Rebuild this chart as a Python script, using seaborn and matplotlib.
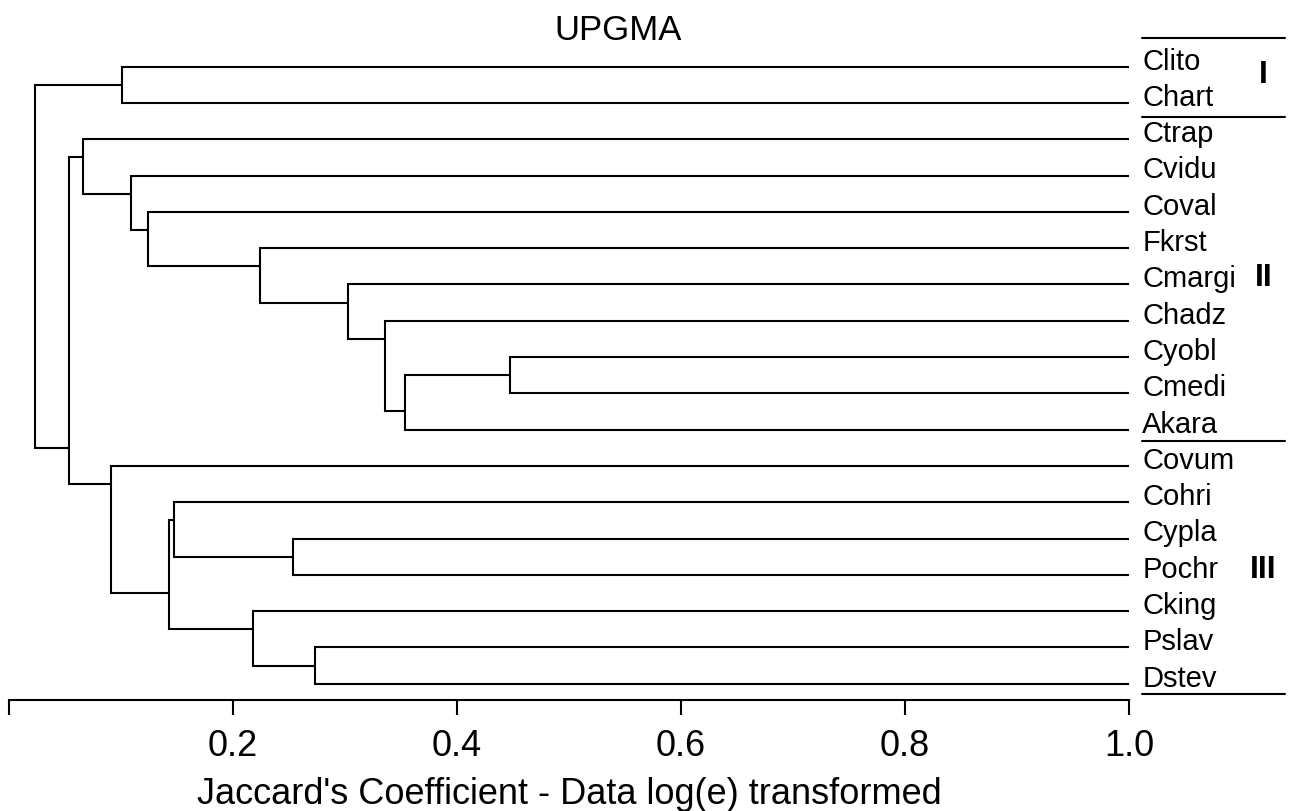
import matplotlib
matplotlib.use("Agg")
import matplotlib.pyplot as plt
import seaborn as sns

# leaf order, top to bottom
leaves = ["Clito", "Chart", "Ctrap", "Cvidu", "Coval", "Fkrst", "Cmargi", "Chadz",
          "Cyobl", "Cmedi", "Akara", "Covum", "Cohri", "Cypla", "Pochr", "Cking",
          "Pslav", "Dstev"]

# merges: (left node, right node, similarity); new nodes numbered from len(leaves)
merge_left = [0, 8, 19, 7, 6, 5, 4, 3, 2, 13, 12, 16, 15, 28, 11, 26, 18]
merge_right = [1, 9, 10, 20, 21, 22, 23, 24, 25, 14, 27, 17, 29, 30, 31, 32, 33]
merge_height = [0.101, 0.447, 0.354, 0.336, 0.303, 0.224, 0.124, 0.109, 0.066,
                0.254, 0.147, 0.273, 0.218, 0.143, 0.091, 0.054, 0.023]

# group brackets on the right
group_names = ["I", "II", "III"]
group_label_pos = [1.23, 6.82, 14.87]
group_lines = [0.22, 2.38, 11.3, 18.28]

x_ticks = [0.0, 0.2, 0.4, 0.6, 0.8, 1.0]
x_tick_labels = ["", "0.2", "0.4", "0.6", "0.8", "1.0"]

sns.set_theme(style="white")
plt.rcParams["font.family"] = ["Liberation Sans", "DejaVu Sans"]
plt.rcParams["text.color"] = "black"
plt.rcParams["xtick.color"] = "black"
plt.rcParams["axes.labelcolor"] = "black"

W, H = 1299, 811
fig = plt.figure(figsize=(W / 100, H / 100), dpi=100)
ax = fig.add_axes([9 / W, (H - 700) / H, (1129 - 9) / W, (700 - 40) / H])

n = len(leaves)
# node info: position, height, first/last leaf
pos = {i: i + 1 for i in range(n)}
hgt = {i: 1.0 for i in range(n)}
span = {i: (i + 1, i + 1) for i in range(n)}

lw = 1.5
for k, (a, b, h) in enumerate(zip(merge_left, merge_right, merge_height)):
    node = n + k
    ya, yb = pos[a], pos[b]
    ax.plot([hgt[a], h, h, hgt[b]], [ya, ya, yb, yb], color="black", lw=lw,
            solid_joinstyle="miter", solid_capstyle="butt")
    span[node] = (span[a][0], span[b][1])
    pos[node] = (span[a][1] + span[b][0]) / 2
    hgt[node] = h

for i, name in enumerate(leaves):
    ax.text(1.0119, i + 1 + 0.08, name, fontsize=21, ha="left", va="baseline",
            clip_on=False)

for yl in group_lines:
    ax.plot([1.0116, 1.1393], [yl, yl], color="black", lw=1.5, clip_on=False)

for name, yp in zip(group_names, group_label_pos):
    ax.text(1.12, yp, name, fontsize=23, fontweight="bold", ha="center",
            va="center", clip_on=False)

ax.set_xlim(0, 1.0)
ax.set_ylim(18.45, 0.264)
ax.set_yticks([])
ax.set_xticks(x_ticks)
ax.set_xticklabels(x_tick_labels, fontsize=26)
ax.tick_params(axis="x", direction="out", length=11, width=1.5, pad=10,
               color="black", bottom=True)
sns.despine(ax=ax, left=True, top=True, right=True)
ax.spines["bottom"].set_color("black")
ax.spines["bottom"].set_linewidth(1.5)
ax.spines["bottom"].set_bounds(0, 1.0)
ax.set_xlabel("Jaccard's Coefficient - Data log(e) transformed", fontsize=26,
              labelpad=9)

fig.text(618 / W, 1 - 30 / H, "UPGMA", fontsize=25, ha="center", va="center")

fig.savefig("out.png", dpi=100, facecolor="white")
